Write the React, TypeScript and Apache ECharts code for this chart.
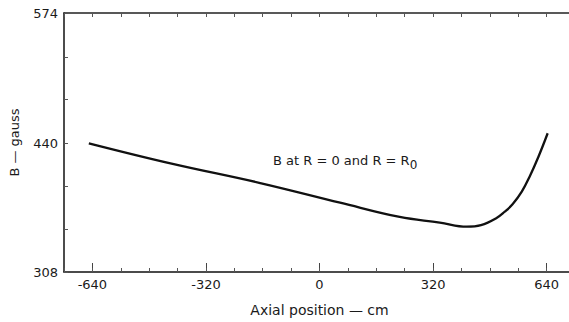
import React, { useEffect, useRef } from "react";
import * as echarts from "echarts";

const positions = [-650, -420, -167, 58, 226, 339, 415, 455, 499, 522, 544, 570, 592, 617, 643];
const fieldB = [440.2, 419.6, 399.4, 379.2, 364.5, 358.8, 354.5, 356.2, 363.5, 369.9, 377.5, 390.5, 405.9, 426.4, 450.5];
const xTickLabels = [-640, -320, 0, 320, 640];
const yTickLabels = [308, 440, 574];
const yTicks = [308, 352, 396, 440, 485, 529, 574];

const FONT = "DejaVu Sans";

export default function App() {
  const ref = useRef<HTMLDivElement>(null);
  useEffect(() => {
    if (!ref.current) return;
    const chart = echarts.init(ref.current, undefined, { renderer: "svg" });
    const data = positions.map((x, i) => [x, fieldB[i]]);
    chart.setOption({
      animation: false,
      backgroundColor: "#fff",
      grid: { left: 63, right: 25, top: 13, bottom: 50 },
      xAxis: [
        {
          type: "value",
          min: -720,
          max: 720,
          position: "bottom",
          name: "Axial position — cm",
          nameLocation: "middle",
          nameGap: 31,
          nameTextStyle: { fontFamily: FONT, fontSize: 14, color: "#1a1a1a" },
          axisLine: { show: true, onZero: false, lineStyle: { color: "#111", width: 1.5 } },
          axisTick: { show: true, inside: true, length: 9, customValues: xTickLabels, lineStyle: { color: "#444", width: 1 } },
          axisLabel: { customValues: xTickLabels, margin: 6, fontFamily: FONT, fontSize: 13, color: "#1a1a1a" },
          splitLine: { show: false },
        },
        {
          type: "value",
          min: -720,
          max: 720,
          interval: 80,
          position: "bottom",
          axisLine: { show: false, onZero: false },
          axisTick: { show: true, inside: true, length: 4, lineStyle: { color: "#555", width: 1 } },
          axisLabel: { show: false },
          splitLine: { show: false },
        },
        {
          type: "value",
          min: -720,
          max: 720,
          interval: 80,
          position: "top",
          axisLine: { show: true, onZero: false, lineStyle: { color: "#222", width: 1.5 } },
          axisTick: { show: true, inside: true, length: 4, lineStyle: { color: "#555", width: 1 } },
          axisLabel: { show: false },
          splitLine: { show: false },
        },
      ],
      yAxis: {
        type: "value",
        min: 308,
        max: 574,
        name: "B — gauss",
        nameLocation: "middle",
        nameGap: 43,
        nameTextStyle: { fontFamily: FONT, fontSize: 13, color: "#1a1a1a" },
        axisLine: { show: true, onZero: false, lineStyle: { color: "#111", width: 1.5 } },
        axisTick: { show: true, inside: true, length: 4, customValues: yTicks, lineStyle: { color: "#555", width: 1 } },
        axisLabel: { customValues: yTickLabels, margin: 6, fontFamily: FONT, fontSize: 13, color: "#1a1a1a" },
        splitLine: { show: false },
      },
      graphic: [
        {
          type: "text",
          left: 273,
          top: 154,
          style: {
            text: "B at R = 0 and R = R{s|0}",
            fontFamily: FONT,
            fontSize: 13,
            fill: "#1a1a1a",
            rich: { s: { fontFamily: FONT, fontSize: 12, fill: "#1a1a1a", verticalAlign: "top", padding: [8, 0, 0, 0] } },
          },
        },
      ],
      series: [
        {
          type: "line",
          xAxisIndex: 0,
          yAxisIndex: 0,
          data,
          smooth: 0.4,
          showSymbol: false,
          lineStyle: { color: "#111", width: 2.3 },
        },
      ],
    });
    return () => chart.dispose();
  }, []);
  return (
    <div style={{ position: "absolute", left: 0, top: 0, width: 569, height: 322, overflow: "hidden", background: "#fff" }}>
      <div ref={ref} style={{ width: 600, height: 322 }} />
    </div>
  );
}
